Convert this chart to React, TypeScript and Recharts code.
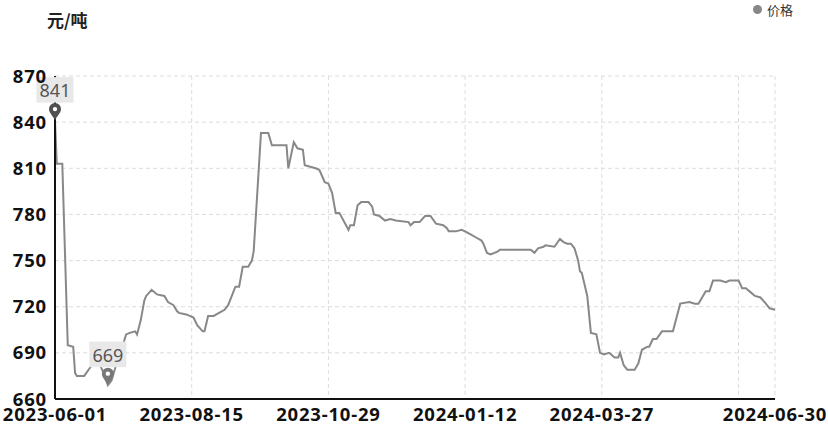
import React from 'react'
import {
  LineChart,
  Line,
  XAxis,
  YAxis,
  CartesianGrid,
  ReferenceDot,
} from 'recharts'

// day offsets from 2023-06-01 (daily series, 2023-06-01 .. 2024-06-30)
const dayOffsets = [
  0, 1, 4, 7, 10, 11, 12, 16, 19, 21, 24, 27, 29, 31, 33, 38, 39, 41, 44, 45, 47, 49, 50, 53, 56, 60,
  62, 65, 67, 68, 72, 76, 78, 81, 82, 84, 87, 93, 95, 97, 99, 101, 103, 106, 108, 109, 113, 117, 119, 127, 128,
  131, 133, 136, 137, 140, 143, 145, 148, 150, 152, 154, 156, 161, 162, 164, 166, 168, 172, 174, 175, 178, 181, 184, 187, 194,
  195, 197, 200, 203, 206, 209, 213, 215, 216, 220, 223, 225, 228, 231, 234, 235, 237, 239, 243, 244, 261, 263, 265, 268, 269,
  274, 277, 279, 281, 283, 285, 287, 288, 289, 292, 294, 297, 299, 301, 304, 307, 309, 310, 312, 314, 318, 320, 322, 325,
  326, 328, 330, 333, 339, 341, 343, 348, 351, 353, 357, 359, 361, 365, 368, 370, 375, 377, 379, 382, 384, 387, 390, 392, 395,
]

const prices = [
  841, 813, 813, 695, 694, 677, 675, 675, 680, 683, 684, 676, 669, 672, 680, 698, 702, 703, 704, 702, 711, 724, 727, 731, 728, 727,
  723, 721, 717, 716, 715, 713, 708, 704, 704, 714, 714, 718, 721, 727, 733, 733, 746, 746, 750, 756, 833, 833, 825, 825, 810,
  827, 823, 822, 812, 811, 810, 809, 801, 800, 794, 781, 781, 770, 773, 773, 786, 788, 788, 785, 780, 779, 776, 777, 776, 775,
  773, 775, 775, 779, 779, 774, 773, 771, 769, 769, 770, 769, 767, 765, 763, 761, 755, 754, 756, 757, 757, 755, 758, 759, 760,
  759, 764, 762, 761, 761, 758, 750, 743, 742, 727, 703, 702, 690, 689, 690, 687, 687, 690, 682, 679, 679, 683, 692, 694,
  694, 699, 699, 704, 704, 713, 722, 723, 722, 722, 730, 730, 737, 737, 736, 737, 737, 732, 732, 729, 727, 726, 722, 719, 718,
]

const xTicks = [0, 75, 150, 225, 300, 375, 395]
const xTickLabels = ['2023-06-01', '2023-08-15', '2023-10-29', '2024-01-12', '2024-03-27', '', '2024-06-30']
const yTicks = [660, 690, 720, 750, 780, 810, 840, 870]

const maxPoint = { day: 0, value: 841 }
const minPoint = { day: 29, value: 669 }

const data = dayOffsets.map((d, i) => ({ day: d, price: prices[i] }))

const axisFont = {
  fontFamily: '"Noto Sans", sans-serif',
  fontSize: 18.5,
  fontWeight: 700,
  fill: '#111',
  letterSpacing: 0.8,
}

const Pin = ({ cx, cy, text, color }: any) => {
  if (cx == null || cy == null) return null
  const hy = cy - 11.5
  const r = 6
  return (
    <g>
      <path
        d={`M${cx},${cy} C${cx - 1.5},${cy - 4} ${cx - r},${hy + 4} ${cx - r},${hy} A${r},${r} 0 1 1 ${cx + r},${hy} C${cx + r},${hy + 4} ${cx + 1.5},${cy - 4} ${cx},${cy} Z`}
        fill={color}
      />
      <circle cx={cx} cy={hy} r={2.2} fill="#fff" />
      <rect x={cx - 18.5} y={cy - 43.5} width={37} height={25.5} fill="#e8e8e8" />
      <text
        x={cx}
        y={cy - 30.5}
        textAnchor="middle"
        dominantBaseline="central"
        fontSize={18}
        fontFamily='"Noto Sans", sans-serif'
        fill="#555"
      >
        {text}
      </text>
    </g>
  )
}

export default function App() {
  return (
    <div style={{ position: 'absolute', left: 0, top: 0, width: 828, height: 426, background: '#fff' }}>
      <div
        style={{
          position: 'absolute',
          left: 47,
          top: 9,
          lineHeight: '22px',
          fontSize: 17,
          fontWeight: 700,
          color: '#222',
          fontFamily: '"Noto Sans CJK SC", sans-serif',
        }}
      >
        元/吨
      </div>
      <div style={{ position: 'absolute', left: 753, top: 5, width: 9, height: 9, borderRadius: '50%', background: '#888' }} />
      <div
        style={{
          position: 'absolute',
          left: 767,
          top: 1,
          lineHeight: '17px',
          fontSize: 13,
          color: '#333',
          fontFamily: '"Noto Sans CJK SC", sans-serif',
        }}
      >
        价格
      </div>
      <LineChart width={828} height={426} data={data} margin={{ top: 76, right: 53, bottom: 0, left: 0 }}>
        <CartesianGrid stroke="#dcdcdc" strokeDasharray="4 3" />
        <Line
          type="linear"
          dataKey="price"
          stroke="#888"
          strokeWidth={2}
          dot={false}
          isAnimationActive={false}
        />
        <XAxis
          dataKey="day"
          type="number"
          domain={[0, 395]}
          ticks={xTicks}
          tickFormatter={(v: number) => xTickLabels[xTicks.indexOf(v)] ?? ''}
          interval={0}
          height={27}
          tickLine={false}
          tickMargin={3}
          axisLine={{ stroke: '#111', strokeWidth: 2 }}
          tick={axisFont}
        />
        <YAxis
          type="number"
          domain={[660, 870]}
          ticks={yTicks}
          interval={0}
          width={55}
          tickLine={false}
          axisLine={{ stroke: '#111', strokeWidth: 2 }}
          tick={axisFont}
        />
        <ReferenceDot
          x={maxPoint.day}
          y={maxPoint.value}
          r={0}
          shape={(p: any) => <Pin {...p} text={String(maxPoint.value)} color="#505050" />}
        />
        <ReferenceDot
          x={minPoint.day}
          y={minPoint.value}
          r={0}
          shape={(p: any) => <Pin {...p} text={String(minPoint.value)} color="#787878" />}
        />
      </LineChart>
    </div>
  )
}
